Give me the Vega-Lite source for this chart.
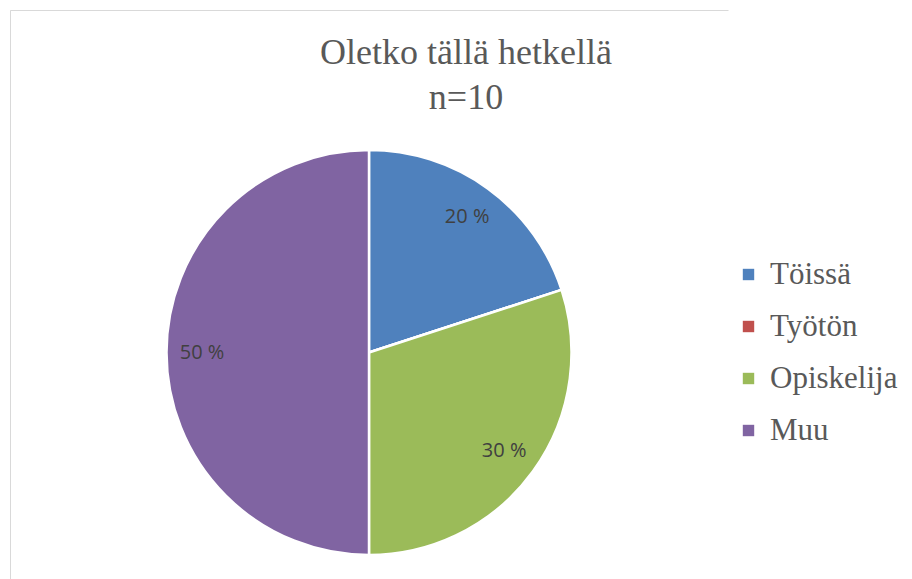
{
  "$schema": "https://vega.github.io/schema/vega-lite/v6.json",
  "width": 718,
  "height": 685,
  "autosize": {"type": "none"},
  "padding": {"left": 10, "top": 10, "right": 184, "bottom": 0},
  "background": "white",
  "view": {"stroke": "#d9d9d9", "strokeWidth": 1, "strokeDash": [718, 1403, 685]},
  "title": {
    "text": ["Oletko tällä hetkellä", "n=10"],
    "font": "Liberation Serif",
    "fontSize": 36,
    "fontWeight": "normal",
    "color": "#595959",
    "anchor": "middle",
    "frame": "group",
    "dx": 97,
    "offset": -107,
    "lineHeight": 45
  },
  "data": {
    "values": [
      {"category": "Töissä", "value": 2, "order": 1, "label": "20 %"},
      {"category": "Työtön", "value": 0, "order": 2, "label": ""},
      {"category": "Opiskelija", "value": 3, "order": 3, "label": "30 %"},
      {"category": "Muu", "value": 5, "order": 4, "label": "50 %"}
    ]
  },
  "encoding": {
    "theta": {"field": "value", "type": "quantitative", "stack": true},
    "order": {"field": "order", "type": "quantitative"}
  },
  "layer": [
    {
      "mark": {"type": "arc", "outerRadius": 202.5, "stroke": "white", "strokeWidth": 2.5},
      "encoding": {
        "color": {
          "field": "category",
          "type": "nominal",
          "sort": ["Töissä", "Työtön", "Opiskelija", "Muu"],
          "scale": {
            "domain": ["Töissä", "Työtön", "Opiskelija", "Muu"],
            "range": ["#4F81BD", "#C0504D", "#9BBB59", "#8064A2"]
          },
          "legend": {
            "orient": "none",
            "legendX": 723,
            "legendY": 249,
            "title": null,
            "labelFont": "Liberation Serif",
            "labelFontSize": 31
          }
        }
      }
    },
    {
      "mark": {"type": "text", "radius": 167, "font": "Open Sans", "fontSize": 20, "fill": "#404040"},
      "encoding": {"text": {"field": "label", "type": "nominal"}}
    }
  ],
  "config": {
    "style": {"guide-label": {"font": "Liberation Serif"}},
    "legend": {
      "padding": 0,
      "labelFont": "Liberation Serif",
      "labelFontSize": 31,
      "labelColor": "#595959",
      "labelLimit": 300,
      "symbolType": "square",
      "symbolSize": 130,
      "symbolStrokeWidth": 0,
      "rowPadding": 20,
      "labelOffset": 6
    }
  }
}
